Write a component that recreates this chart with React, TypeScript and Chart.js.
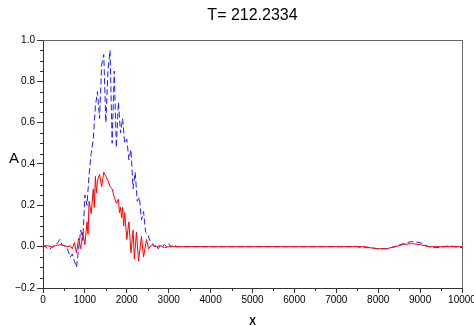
import React, { useEffect, useRef } from "react";
import { Chart, registerables } from "chart.js";

Chart.register(...registerables);

const titleText = "T= 212.2334";
const xAxisLabel = "X";
const yAxisLabel = "A";
const xTickValues = [0, 1000, 2000, 3000, 4000, 5000, 6000, 7000, 8000, 9000, 10000];
const yTickValues = [-0.2, 0.0, 0.2, 0.4, 0.6, 0.8, 1.0];

const blueX = [0,50,100,150,200,250,300,350,400,450,500,550,600,650,700,750,800,850,900,950,1000,1050,1100,1150,1200,1250,1300,1350,1400,1450,1500,1550,1600,1650,1700,1750,1800,1850,1900,1950,2000,2050,2100,2150,2200,2250,2300,2350,2400,2450,2500,2550,2600,2650,2700,2750,2800,2850,2900,2950,3000,3050,3100,3200,3400,4000,5000,6000,7000,7500,7600,7800,8000,8200,8400,8600,8800,9000,9200,9400,9600,9700,9800,10000];
const blueY = [0,0.005,-0.01,-0.015,-0.005,0,0.005,0.02,0.035,0.01,0.005,0,-0.02,-0.05,-0.035,-0.07,-0.1,-0.01,0.08,0.03,0.25,0.2,0.35,0.45,0.52,0.68,0.75,0.62,0.88,0.93,0.6,0.85,0.95,0.5,0.85,0.48,0.7,0.55,0.62,0.5,0.52,0.42,0.47,0.28,0.36,0.22,0.24,0.13,0.17,0.07,0.06,0.03,0.02,0,0.01,-0.01,0.005,0,0.01,0,0.015,0,0.01,0,0,0,0,0,0,0,-0.005,-0.005,-0.01,-0.01,0,0.015,0.025,0.02,0,-0.005,0,0.005,0,-0.005];

const redX = [0,100,200,300,400,500,600,650,700,750,800,850,900,950,1000,1050,1075,1100,1150,1200,1225,1250,1275,1300,1350,1400,1450,1500,1550,1600,1650,1700,1750,1800,1825,1850,1875,1900,1925,1950,2000,2050,2100,2150,2180,2230,2280,2350,2400,2470,2520,2600,2700,2800,2900,3000,3200,4000,5000,6000,7000,7700,7800,8000,8200,8400,8600,8800,9000,9200,10000];
const redY = [0,0.005,0,0.005,0.01,0.005,0,0.005,-0.01,0.02,-0.03,0.04,-0.01,0.07,0.01,0.12,0.06,0.22,0.16,0.28,0.19,0.34,0.26,0.32,0.35,0.29,0.36,0.34,0.32,0.29,0.28,0.24,0.21,0.23,0.165,0.19,0.14,0.19,0.1,0.165,0.035,0.12,-0.03,0.08,-0.06,0.07,-0.07,0.05,-0.05,0.035,-0.01,0.01,0,0.005,-0.005,0,0,0,0,0,0,0,-0.005,-0.01,-0.01,0,0.01,0.015,0.01,0,0];

const FONT = "'Liberation Sans', Arial, sans-serif";

const framePlugin = {
  id: "frame",
  afterDraw(chart: any) {
    const { ctx, chartArea } = chart;
    const xs = chart.scales.x;
    const ys = chart.scales.y;
    ctx.save();
    // frame top/right
    ctx.strokeStyle = "#666";
    ctx.lineWidth = 1;
    ctx.beginPath();
    ctx.moveTo(chartArea.left, chartArea.top + 0.5);
    ctx.lineTo(chartArea.right + 0.5, chartArea.top + 0.5);
    ctx.lineTo(chartArea.right + 0.5, chartArea.bottom);
    ctx.stroke();
    // minor ticks
    ctx.strokeStyle = "#333";
    ctx.beginPath();
    for (let v = -0.15; v < 1.0; v += 0.2) {
      for (const m of [0, 0.05, 0.1]) {
        const val = v + m;
        if (val >= 1.0) continue;
        const py = Math.round(ys.getPixelForValue(val)) + 0.5;
        ctx.moveTo(chartArea.left - 3, py);
        ctx.lineTo(chartArea.left, py);
      }
    }
    for (let v = 500; v < 10000; v += 1000) {
      const px = Math.round(xs.getPixelForValue(v)) + 0.5;
      ctx.moveTo(px, chartArea.bottom);
      ctx.lineTo(px, chartArea.bottom + 3);
    }
    ctx.stroke();
    // title and axis labels
    ctx.fillStyle = "#000";
    ctx.textAlign = "center";
    ctx.textBaseline = "alphabetic";
    ctx.font = `16px ${FONT}`;
    ctx.fillText(titleText, (chartArea.left + chartArea.right) / 2, 20);
    ctx.font = `15px ${FONT}`;
    ctx.textAlign = "left";
    ctx.fillText(yAxisLabel, 9, ys.getPixelForValue(0.4) - 1);
    ctx.font = `bold 10px ${FONT}`;
    ctx.textAlign = "center";
    ctx.fillText(xAxisLabel, (chartArea.left + chartArea.right) / 2, 325);
    ctx.restore();
  },
};

export default function App() {
  const canvasRef = useRef<HTMLCanvasElement>(null);
  useEffect(() => {
    const canvas = canvasRef.current!;
    const chart = new Chart(canvas, {
      type: "line",
      data: {
        datasets: [
          {
            label: "red",
            data: redX.map((x, i) => ({ x, y: redY[i] })),
            borderColor: "rgb(255,0,0)",
            borderWidth: 1,
            pointRadius: 0,
            tension: 0,
            fill: false,
          },
          {
            label: "blue",
            data: blueX.map((x, i) => ({ x, y: blueY[i] })),
            borderColor: "rgb(30,30,255)",
            borderWidth: 1,
            borderDash: [6, 3],
            pointRadius: 0,
            tension: 0,
            fill: false,
          },
        ],
      },
      options: {
        animation: false,
        responsive: false,
        maintainAspectRatio: false,
        layout: { padding: { top: 40, right: 12, left: 0, bottom: 0 } },
        plugins: { legend: { display: false }, title: { display: false }, tooltip: { enabled: false } },
        scales: {
          x: {
            type: "linear",
            min: 0,
            max: 10000,
            afterBuildTicks: (s: any) => {
              s.ticks = xTickValues.map((v) => ({ value: v }));
            },
            afterFit: (s: any) => {
              s.height = 38;
              s.paddingLeft = 0;
              s.paddingRight = 0;
            },
            ticks: {
              font: { family: FONT, size: 10 },
              color: "#000",
              padding: 1,
              maxRotation: 0,
              autoSkip: false,
              callback: (v: any) => String(v),
            },
            grid: { display: true, drawOnChartArea: false, tickLength: 5, color: "#333" },
            border: { display: true, color: "#333", width: 1 },
          },
          y: {
            type: "linear",
            min: -0.2,
            max: 1.0,
            afterBuildTicks: (s: any) => {
              s.ticks = yTickValues.map((v) => ({ value: v }));
            },
            afterFit: (s: any) => {
              s.width = 43;
              s.paddingTop = 0;
              s.paddingBottom = 0;
            },
            ticks: {
              font: { family: FONT, size: 10 },
              color: "#000",
              padding: 2,
              autoSkip: false,
              callback: (v: any) => (Number(v) < 0 ? "\u2212" + Math.abs(Number(v)).toFixed(1) : Number(v).toFixed(1)),
            },
            grid: { display: true, drawOnChartArea: false, tickLength: 6, color: "#333" },
            border: { display: true, color: "#333", width: 1 },
          },
        },
      },
      plugins: [framePlugin],
    });
    return () => chart.destroy();
  }, []);
  return (
    <div style={{ position: "fixed", left: 0, top: 0, width: 474, height: 326, background: "#fff" }}>
      <canvas ref={canvasRef} width={474} height={326} style={{ width: 474, height: 326 }} />
    </div>
  );
}
